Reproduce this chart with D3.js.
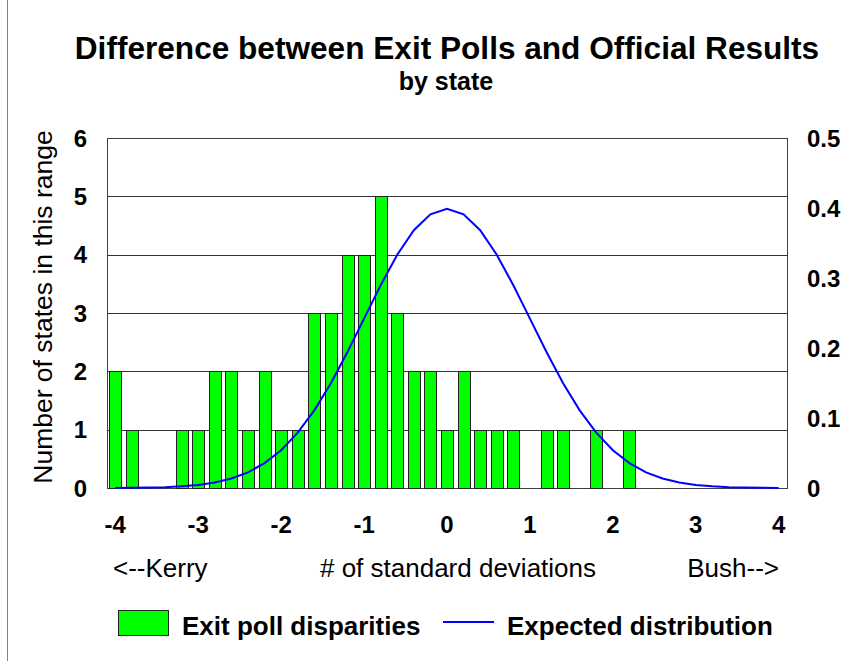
<!DOCTYPE html>
<html>
<head>
<meta charset="utf-8">
<script src="https://cdn.jsdelivr.net/npm/d3@7"></script>
<style>
  body { margin: 0; background: #fff; }
  svg { display: block; font-family: "Liberation Sans", Arial, sans-serif; }
</style>
</head>
<body>
<div id="chart"></div>
<script>
// categories: standard deviations, -4.0 .. 4.0 in 0.2 steps
const categories = [-4.0, -3.8, -3.6, -3.4, -3.2, -3.0, -2.8, -2.6, -2.4, -2.2, -2.0,
  -1.8, -1.6, -1.4, -1.2, -1.0, -0.8, -0.6, -0.4, -0.2, 0.0,
  0.2, 0.4, 0.6, 0.8, 1.0, 1.2, 1.4, 1.6, 1.8, 2.0,
  2.2, 2.4, 2.6, 2.8, 3.0, 3.2, 3.4, 3.6, 3.8, 4.0];

// number of states per range (bars, left axis)
const stateCounts = [2, 1, 0, 0, 1, 1, 2, 2, 1, 2, 1,
  1, 3, 3, 4, 4, 5, 3, 2, 2, 1,
  2, 1, 1, 1, 0, 1, 1, 0, 1, 0,
  1, 0, 0, 0, 0, 0, 0, 0, 0, 0];

// expected distribution (line, right axis)
const expected = [0.0001, 0.0003, 0.0006, 0.0012, 0.0024, 0.0044, 0.0079, 0.0136, 0.0224, 0.0355, 0.0540,
  0.0790, 0.1109, 0.1497, 0.1942, 0.2420, 0.2897, 0.3332, 0.3683, 0.3910, 0.3989,
  0.3910, 0.3683, 0.3332, 0.2897, 0.2420, 0.1942, 0.1497, 0.1109, 0.0790, 0.0540,
  0.0355, 0.0224, 0.0136, 0.0079, 0.0044, 0.0024, 0.0012, 0.0006, 0.0003, 0.0001];

const leftTicks = [0, 1, 2, 3, 4, 5, 6];
const rightTicks = [0, 0.1, 0.2, 0.3, 0.4, 0.5];
const xTickLabels = [-4, -3, -2, -1, 0, 1, 2, 3, 4];

const width = 847, height = 661;
const plot = { left: 107, right: 787, top: 138, bottom: 488 };

const svg = d3.select('#chart').append('svg')
  .attr('width', width)
  .attr('height', height);

// frame edge on the left
svg.append('line')
  .attr('x1', 7.5).attr('x2', 7.5)
  .attr('y1', 0).attr('y2', height)
  .attr('stroke', '#808080');

const x = d3.scaleBand()
  .domain(categories)
  .range([plot.left, plot.right])
  .paddingInner(0.28)
  .paddingOuter(0.14);

const yLeft = d3.scaleLinear().domain([0, 6]).range([plot.bottom, plot.top]);
const yRight = d3.scaleLinear().domain([0, 0.5]).range([plot.bottom, plot.top]);

// gridlines
svg.append('g')
  .selectAll('line')
  .data(leftTicks)
  .join('line')
  .attr('x1', plot.left).attr('x2', plot.right)
  .attr('y1', d => Math.round(yLeft(d)) + 0.5)
  .attr('y2', d => Math.round(yLeft(d)) + 0.5)
  .attr('stroke', '#333');

// plot border
svg.append('rect')
  .attr('x', plot.left + 0.5).attr('y', plot.top + 0.5)
  .attr('width', plot.right - plot.left).attr('height', plot.bottom - plot.top)
  .attr('fill', 'none')
  .attr('stroke', '#404040');

// bars
svg.append('g')
  .selectAll('rect')
  .data(categories.map((c, i) => ({ c, v: stateCounts[i] })).filter(d => d.v > 0))
  .join('rect')
  .attr('x', d => Math.round(x(d.c)) + 0.5)
  .attr('y', d => Math.round(yLeft(d.v)) + 0.5)
  .attr('width', Math.round(x.bandwidth()))
  .attr('height', d => Math.round(yLeft(0)) - Math.round(yLeft(d.v)))
  .attr('fill', '#00ff00')
  .attr('stroke', '#222')
  .attr('stroke-width', 1);

// expected distribution line
const line = d3.line()
  .x((d, i) => x(categories[i]) + x.bandwidth() / 2)
  .y(d => yRight(d));

svg.append('path')
  .datum(expected)
  .attr('d', line)
  .attr('fill', 'none')
  .attr('stroke', '#0000ff')
  .attr('stroke-width', 2);

// left axis labels
svg.append('g')
  .selectAll('text')
  .data(leftTicks)
  .join('text')
  .attr('x', 87)
  .attr('y', d => yLeft(d) + 8.5)
  .attr('text-anchor', 'end')
  .attr('font-size', 24)
  .attr('font-weight', 'bold')
  .text(d => d);

// right axis labels
svg.append('g')
  .selectAll('text')
  .data(rightTicks)
  .join('text')
  .attr('x', 807)
  .attr('y', d => yRight(d) + 8.5)
  .attr('font-size', 24)
  .attr('font-weight', 'bold')
  .text(d => d);

// x tick labels
svg.append('g')
  .selectAll('text')
  .data(xTickLabels)
  .join('text')
  .attr('x', d => x(d) + x.bandwidth() / 2)
  .attr('y', 533)
  .attr('text-anchor', 'middle')
  .attr('font-size', 24)
  .attr('font-weight', 'bold')
  .text(d => d);

// x axis captions
const captions = svg.append('g').attr('font-size', 26);
captions.append('text').attr('x', 113).attr('y', 577).text('<--Kerry');
captions.append('text').attr('x', 458).attr('y', 577).attr('text-anchor', 'middle').text('# of standard deviations');
captions.append('text').attr('x', 779).attr('y', 577).attr('text-anchor', 'end').text('Bush-->');

// y axis title
svg.append('text')
  .attr('transform', 'translate(52,307) rotate(-90)')
  .attr('text-anchor', 'middle')
  .attr('font-size', 26.5)
  .text('Number of states in this range');

// titles
svg.append('text')
  .attr('x', 447).attr('y', 59)
  .attr('text-anchor', 'middle')
  .attr('font-size', 31.6)
  .attr('font-weight', 'bold')
  .text('Difference between Exit Polls and Official Results');

svg.append('text')
  .attr('x', 446).attr('y', 90)
  .attr('text-anchor', 'middle')
  .attr('font-size', 25)
  .attr('font-weight', 'bold')
  .text('by state');

// legend
const legend = svg.append('g');
legend.append('rect')
  .attr('x', 118.5).attr('y', 610.5)
  .attr('width', 50).attr('height', 25)
  .attr('fill', '#00ff00')
  .attr('stroke', '#222');
legend.append('text')
  .attr('x', 182).attr('y', 635)
  .attr('font-size', 26)
  .attr('font-weight', 'bold')
  .text('Exit poll disparities');
legend.append('line')
  .attr('x1', 443).attr('x2', 494)
  .attr('y1', 622).attr('y2', 622)
  .attr('stroke', '#0000ff')
  .attr('stroke-width', 2);
legend.append('text')
  .attr('x', 507).attr('y', 635)
  .attr('font-size', 26)
  .attr('font-weight', 'bold')
  .text('Expected distribution');
</script>
</body>
</html>
